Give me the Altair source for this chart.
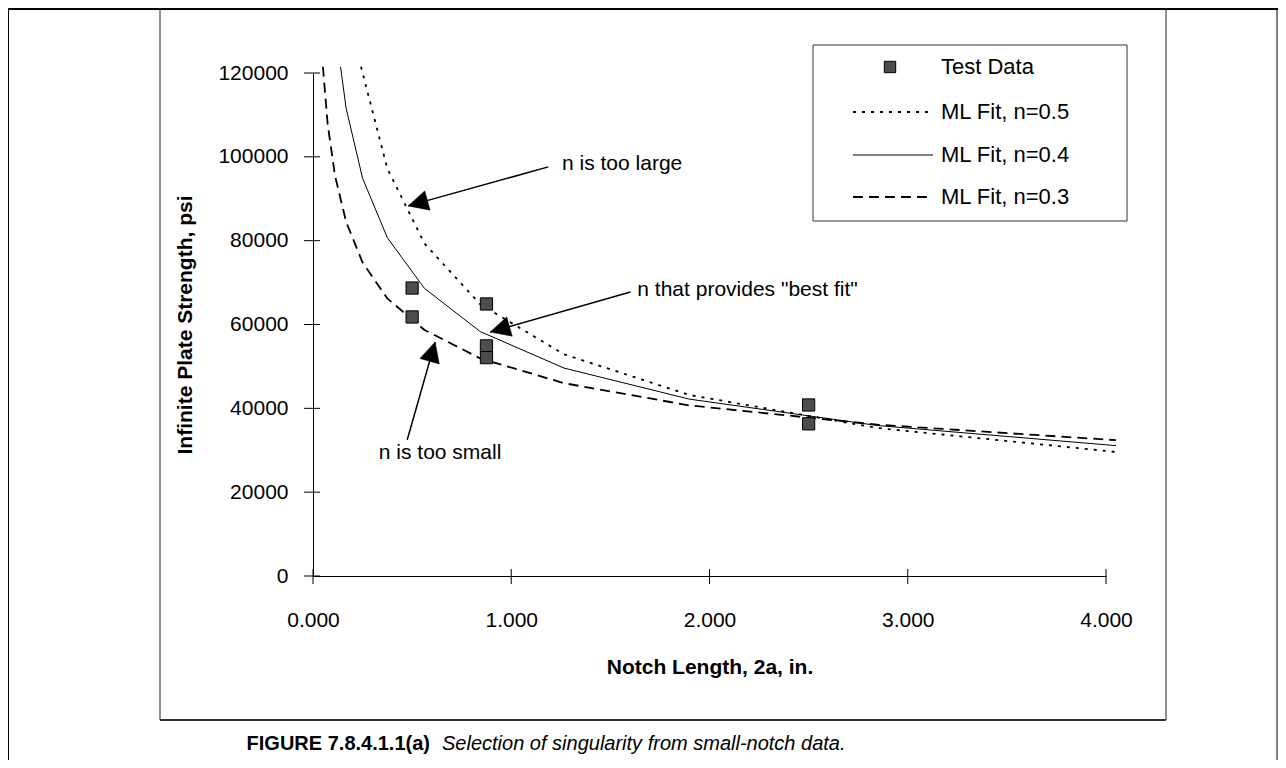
import math
import altair as alt
import pandas as pd

FONT = "Liberation Sans"
FS = 21

# ---------------- data ----------------
test_x = [0.5, 0.5, 0.875, 0.875, 0.875, 2.5, 2.5]
test_y = [68700, 61800, 64900, 54900, 52100, 40800, 36300]

fit05_x = [0.242, 0.375, 0.5625, 0.844, 1.266, 1.898, 2.848, 4.05]
fit05_y = [121500, 97200, 79300, 64800, 52900, 43200, 35300, 29600]

fit04_x = [0.139, 0.167, 0.25, 0.375, 0.5625, 0.844, 1.266, 1.898, 2.848, 4.05]
fit04_y = [121500, 111600, 94900, 80700, 68600, 58300, 49600, 42200, 35900, 31100]

fit03_x = [0.05, 0.074, 0.111, 0.167, 0.25, 0.375, 0.5625, 0.844, 1.266, 1.898, 2.848, 4.05]
fit03_y = [121500, 107800, 95500, 84500, 74800, 66200, 58700, 51900, 46000, 40700, 36100, 32400]

x_ticks = [0, 1, 2, 3, 4]
y_ticks = [0, 20000, 40000, 60000, 80000, 100000, 120000]

legend_labels = ["Test Data", "ML Fit, n=0.5", "ML Fit, n=0.4", "ML Fit, n=0.3"]

ann_text = ["n is too large", 'n that provides "best fit"', "n is too small"]
ann_text_x = [1.256, 1.636, 0.641]
ann_text_y = [98300, 68200, 29300]
ann_align = ["left", "left", "center"]
arrow_tail_x = [1.187, 1.601, 0.475]
arrow_tail_y = [97600, 67750, 32450]
arrow_tip_x = [0.480, 0.894, 0.616]
arrow_tip_y = [88300, 58200, 55830]

caption_bold = "FIGURE 7.8.4.1.1(a)"
caption_italic = "Selection of singularity from small-notch data."

# ---------------- layout ----------------
W, H = 793, 503
PAD = {"left": 305, "top": 65, "right": 172, "bottom": 184}
XMAX, YMAX = 4.0, 120000

xs = alt.Scale(domain=[0, XMAX], nice=False, zero=True)
ys = alt.Scale(domain=[0, YMAX], nice=False, zero=True)

one = pd.DataFrame({"k": [0]})

def px(x):
    return x / XMAX * W

def py(y):
    return H - y / YMAX * H

# arrow head angles (pixel space)
angles = []
for tx, ty, hx, hy in zip(arrow_tail_x, arrow_tail_y, arrow_tip_x, arrow_tip_y):
    dx = px(hx) - px(tx)
    dy = py(hy) - py(ty)
    angles.append(math.degrees(math.atan2(dx, -dy)) % 360)

df_test = pd.DataFrame({"x": test_x, "y": test_y})
df05 = pd.DataFrame({"x": fit05_x, "y": fit05_y})
df04 = pd.DataFrame({"x": fit04_x, "y": fit04_y})
df03 = pd.DataFrame({"x": fit03_x, "y": fit03_y})
df_arrow = pd.DataFrame({
    "tx": arrow_tail_x, "ty": arrow_tail_y,
    "hx": arrow_tip_x, "hy": arrow_tip_y, "angle": angles,
})

# ---------------- axes base ----------------
base_x = alt.X("x:Q", scale=xs, axis=alt.Axis(
    values=x_ticks, format=".3f", ticks=False, labelPadding=33, labelFlush=False,
    labelOverlap=False, title="Notch Length, 2a, in.", titlePadding=26))
base_y = alt.Y("y:Q", scale=ys, axis=alt.Axis(
    values=y_ticks, format="d", ticks=False, labelPadding=25, labelFlush=False,
    labelOverlap=False, title="Infinite Plate Strength, psi", titlePadding=22))

points = alt.Chart(df_test).mark_square(
    size=150, filled=True, fill="#4d4d4d", stroke="black", strokeWidth=1, opacity=1
).encode(x=base_x, y=base_y)

line05 = alt.Chart(df05).mark_line(color="black", strokeWidth=1.8, strokeDash=[3, 6]).encode(
    x=alt.X("x:Q", scale=xs), y=alt.Y("y:Q", scale=ys))
line04 = alt.Chart(df04).mark_line(color="black", strokeWidth=1).encode(
    x=alt.X("x:Q", scale=xs), y=alt.Y("y:Q", scale=ys))
line03 = alt.Chart(df03).mark_line(color="black", strokeWidth=1.8, strokeDash=[10, 6]).encode(
    x=alt.X("x:Q", scale=xs), y=alt.Y("y:Q", scale=ys))

# crossing tick marks
ytick_layer = alt.Chart(pd.DataFrame({"y": y_ticks})).mark_rule(color="black", strokeWidth=1).encode(
    y=alt.Y("y:Q", scale=ys), x=alt.value(-9), x2=alt.value(7))
xtick_layer = alt.Chart(pd.DataFrame({"x": x_ticks})).mark_rule(color="black", strokeWidth=1).encode(
    x=alt.X("x:Q", scale=xs), y=alt.value(H - 7), y2=alt.value(H + 8))

# arrows
arrow_lines = alt.Chart(df_arrow).mark_rule(color="black", strokeWidth=1.5).encode(
    x=alt.X("tx:Q", scale=xs), y=alt.Y("ty:Q", scale=ys),
    x2="hx:Q", y2="hy:Q")
arrow_heads = alt.Chart(df_arrow).mark_point(
    shape="M0,0L0.5,1L-0.5,1Z", size=1600, filled=True, fill="black", stroke="black",
    strokeWidth=0.5, opacity=1
).encode(x=alt.X("hx:Q", scale=xs), y=alt.Y("hy:Q", scale=ys),
         angle=alt.Angle("angle:Q", scale=None))

ann_layers = []
for t, tx, ty, al in zip(ann_text, ann_text_x, ann_text_y, ann_align):
    ann_layers.append(
        alt.Chart(pd.DataFrame({"x": [tx], "y": [ty]})).mark_text(
            text=t, align=al, baseline="middle", fontSize=FS, font=FONT, color="black"
        ).encode(x=alt.X("x:Q", scale=xs), y=alt.Y("y:Q", scale=ys))
    )

# ---------------- frames ----------------
def rule(x1, x2, y1, y2, color="black", width=1):
    return alt.Chart(one).mark_rule(color=color, strokeWidth=width).encode(
        x=alt.value(x1), x2=alt.value(x2), y=alt.value(y1), y2=alt.value(y2))

frames = [
    rule(-305, 965, -64, -64, width=2),        # outer top
    rule(-304.5, -304.5, -65, 687),            # outer left
    rule(964, 964, -65, 687),                  # outer right
    rule(-153, -153, -65, 647, color="#222"),  # inner left
    rule(853, 853, -65, 647, color="#222"),    # inner right
    rule(-153, 853, 647, 647, color="#333", width=2),  # inner bottom
]

# ---------------- legend ----------------
LX0, LX1, LY0, LY1 = 500, 814, -28, 148
legend_box = alt.Chart(one).mark_rect(fill="white", stroke="#333", strokeWidth=1).encode(
    x=alt.value(LX0), x2=alt.value(LX1), y=alt.value(LY0), y2=alt.value(LY1))
row_y = [-6, 39, 82, 124]
leg_sq = alt.Chart(one).mark_square(size=130, filled=True, fill="#4d4d4d", stroke="black",
                                    strokeWidth=1, opacity=1).encode(
    x=alt.value(577), y=alt.value(row_y[0]))
leg_l05 = alt.Chart(one).mark_rule(color="black", strokeWidth=1.8, strokeDash=[3, 6]).encode(
    x=alt.value(540), x2=alt.value(620), y=alt.value(row_y[1]))
leg_l04 = alt.Chart(one).mark_rule(color="black", strokeWidth=1).encode(
    x=alt.value(540), x2=alt.value(620), y=alt.value(row_y[2]))
leg_l03 = alt.Chart(one).mark_rule(color="black", strokeWidth=1.8, strokeDash=[10, 6]).encode(
    x=alt.value(540), x2=alt.value(620), y=alt.value(row_y[3]))
leg_text = [
    alt.Chart(one).mark_text(text=lab, align="left", baseline="middle", fontSize=22,
                             font=FONT, color="black").encode(
        x=alt.value(628), y=alt.value(ry))
    for lab, ry in zip(legend_labels, row_y)
]

# ---------------- caption ----------------
cap1 = alt.Chart(one).mark_text(text=caption_bold, align="right", baseline="middle",
                                fontSize=20, fontWeight="bold", font=FONT, color="black").encode(
    x=alt.value(117), y=alt.value(671))
cap2 = alt.Chart(one).mark_text(text=caption_italic, align="left", baseline="middle",
                                fontSize=20, fontStyle="italic", font=FONT, color="black").encode(
    x=alt.value(129), y=alt.value(671))

chart = alt.layer(
    *frames, legend_box, leg_sq, leg_l05, leg_l04, leg_l03, *leg_text,
    line05, line04, line03, points, ytick_layer, xtick_layer,
    arrow_lines, arrow_heads, *ann_layers, cap1, cap2,
).properties(
    width=W, height=H, padding=PAD,
    autosize=alt.AutoSizeParams(type="none"),
    background="white",
).configure_view(stroke=None).configure_axis(
    grid=False, domainColor="black", domainWidth=1,
    labelColor="black", labelFont=FONT, labelFontSize=FS,
    titleColor="black", titleFont=FONT, titleFontSize=FS, titleFontWeight="bold",
)

chart.save("out.html", embed_options={"renderer": "svg", "actions": False})
